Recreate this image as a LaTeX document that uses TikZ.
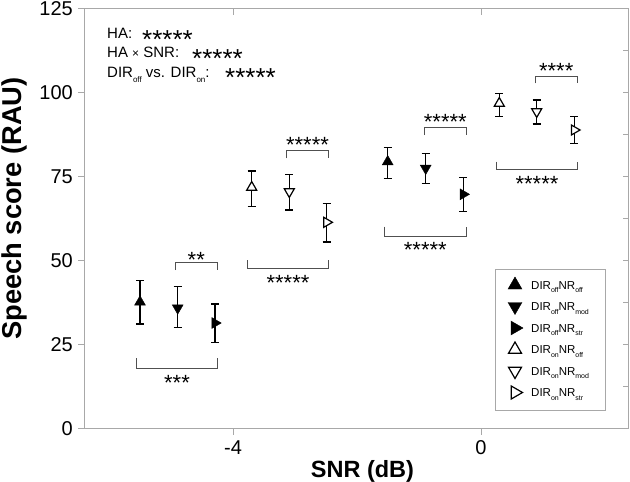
\documentclass[tikz,border=0pt]{standalone}
\usepackage{fontspec}
\setmainfont{Liberation Sans}
\usetikzlibrary{shapes.geometric}
\newcommand{\lsub}[3]{\raisebox{-#2pt}{\fontsize{#1}{#1}\selectfont #3}}
\newcommand{\ebar}[3]{\draw[ebarstyle] (#1,#2) -- (#1,#3) (#1-4,#2) -- (#1+4,#2) (#1-4,#3) -- (#1+4,#3);}
\definecolor{framegray}{HTML}{A8A8A8}
\definecolor{brgray}{HTML}{505050}
\tikzset{
  axisline/.style={draw=framegray, line width=0.9pt},
  ebarstyle/.style={draw=black, line width=1.3pt},
  brk/.style={draw=brgray, line width=0.9pt},
  tri/.style={regular polygon, regular polygon sides=3, inner sep=0pt, minimum size=12.5pt},
  triF/.style={tri, fill=black, draw=black, line width=0.4pt},
  triO/.style={tri, fill=white, draw=black, line width=1.2pt, minimum size=11.5pt},
  legF/.style={triF, minimum size=16pt},
  legO/.style={triO, minimum size=15pt},
  dn/.style={rotate=180},
  rt/.style={rotate=-90},
  ticklab/.style={inner sep=0pt, font=\fontsize{20}{20}\selectfont},
  brstars/.style={inner sep=0pt, anchor=base, font=\fontsize{22}{22}\selectfont},
  anstars/.style={inner sep=0pt, anchor=base west, font=\fontsize{26}{26}\selectfont},
  antext/.style={inner sep=0pt, anchor=base west, font=\fontsize{15}{15}\selectfont},
  legtext/.style={inner sep=0pt, anchor=base west, font=\fontsize{11.5}{11.5}\selectfont},
}
\begin{document}
\begin{tikzpicture}[x=1pt,y=-1pt]
\useasboundingbox[fill=white] (0,0) rectangle (630,482);
% frame
\draw[axisline] (84,8.5) rectangle (628,428.5);
% y ticks and labels
\foreach \v in {0,25,...,125} {
  \draw[axisline] (78,428.5-3.36*\v) -- (84,428.5-3.36*\v);
  \node[ticklab, anchor=east] at (73,428.5-3.36*\v) {\v};
}
\foreach \v in {12.5,25,...,112.5} {
  \draw[axisline] (623,428.5-3.36*\v) -- (628,428.5-3.36*\v);
}
% x ticks and labels
\foreach \x/\l in {233/-4,481/0} {
  \draw[axisline] (\x,428.5) -- (\x,434.5);
  \draw[axisline] (\x,8.5) -- (\x,14.5);
  \node[ticklab] at (\x,447.5) {\l};
}
% axis titles
\node[inner sep=0pt, rotate=90, anchor=base, font=\fontsize{27.3}{27.3}\selectfont\bfseries] (ytitle) at (21,208.5) {Speech score (RAU)};
\node[inner sep=0pt, anchor=base, font=\fontsize{23.5}{23.5}\selectfont\bfseries] (xtitle) at (362.5,477) {SNR (dB)};
% annotations
\node[antext] (a1) at (107,38.5) {HA:};
\node[anstars] (s1) at (142,48.2) {\smash{*****}};
\node[antext] (a2) at (107,57.5) {HA {\fontsize{12}{12}\selectfont×} SNR:};
\node[anstars] (s2) at (192,67.2) {\smash{*****}};
\node[antext] (a3) at (107,77) {DIR\lsub{8}{5}{off} vs. DIR\lsub{8}{5}{on}:};
\node[anstars] (s3) at (225,86.7) {\smash{*****}};
% group 1
\ebar{140}{280.7}{324}
\ebar{177.7}{286.7}{327.7}
\ebar{215}{304}{342.7}
\node[triF] (g1a) at (140,302) {};
\node[triF,dn] (g1b) at (177.7,308) {};
\node[triF,rt] (g1c) at (215,323) {};
\draw[brk] (175,270) -- (175,262.7) -- (217.7,262.7) -- (217.7,270);
\node[brstars] (t1) at (196.3,267.8) {**};
\draw[brk] (136,358) -- (136,368) -- (217.7,368) -- (217.7,358);
\node[brstars] (b1) at (177,390.8) {***};
% group 2
\ebar{251.7}{171}{206.7}
\ebar{289.3}{174.3}{210}
\ebar{326.7}{203.3}{242}
\node[triO] (g2a) at (251.7,187.3) {};
\node[triO,dn] (g2b) at (289.3,191.7) {};
\node[triO,rt] (g2c) at (326.7,222.3) {};
\draw[brk] (286.7,158.3) -- (286.7,150.7) -- (328.3,150.7) -- (328.3,158.3);
\node[brstars] (t2) at (307.5,152.8) {*****};
\draw[brk] (247.3,260) -- (247.3,268.3) -- (328.3,268.3) -- (328.3,260);
\node[brstars] (b2) at (288,290.8) {*****};
% group 3
\ebar{387.7}{147.3}{178.3}
\ebar{425.7}{153.3}{183.3}
\ebar{463.3}{177.3}{211.7}
\node[triF] (g3a) at (387.7,161.7) {};
\node[triF,dn] (g3b) at (425.7,168.3) {};
\node[triF,rt] (g3c) at (463.3,194.3) {};
\draw[brk] (424,135) -- (424,127.3) -- (466.7,127.3) -- (466.7,135);
\node[brstars] (t3) at (445.3,129.5) {*****};
\draw[brk] (384,226.7) -- (384,236) -- (466.7,236) -- (466.7,226.7);
\node[brstars] (b3) at (425.3,257.8) {*****};
% group 4
\ebar{499.3}{93.3}{116.7}
\ebar{536.7}{100}{124}
\ebar{574.3}{116.7}{143.3}
\node[triO] (g4a) at (499.3,103.3) {};
\node[triO,dn] (g4b) at (536.7,111.7) {};
\node[triO,rt] (g4c) at (574.3,130) {};
\draw[brk] (535,83.3) -- (535,76) -- (577.3,76) -- (577.3,83.3);
\node[brstars] (t4) at (556.2,78.8) {****};
\draw[brk] (496.7,161.7) -- (496.7,169.3) -- (577.3,169.3) -- (577.3,161.7);
\node[brstars] (b4) at (537,191.8) {*****};
% legend
\draw[draw=framegray, line width=0.9pt, fill=white] (495,269.5) rectangle (605,410.5);
\node[legF] (l1) at (515,285) {};
\node[legF,dn] (l2) at (515,306.5) {};
\node[legF,rt] (l3) at (515,328) {};
\node[legO] (l4) at (515,349.5) {};
\node[legO,dn] (l5) at (515,371) {};
\node[legO,rt] (l6) at (515,392.5) {};
\node[legtext] (lt1) at (531,289.3) {DIR\lsub{7}{3.5}{off}NR\lsub{7}{3.5}{off}};
\node[legtext] (lt2) at (531,310.8) {DIR\lsub{7}{3.5}{off}NR\lsub{7}{3.5}{mod}};
\node[legtext] (lt3) at (531,332.3) {DIR\lsub{7}{3.5}{off}NR\lsub{7}{3.5}{str}};
\node[legtext] (lt4) at (531,353.8) {DIR\lsub{7}{3.5}{on}NR\lsub{7}{3.5}{off}};
\node[legtext] (lt5) at (531,375.3) {DIR\lsub{7}{3.5}{on}NR\lsub{7}{3.5}{mod}};
\node[legtext] (lt6) at (531,396.8) {DIR\lsub{7}{3.5}{on}NR\lsub{7}{3.5}{str}};
\end{tikzpicture}
\end{document}
